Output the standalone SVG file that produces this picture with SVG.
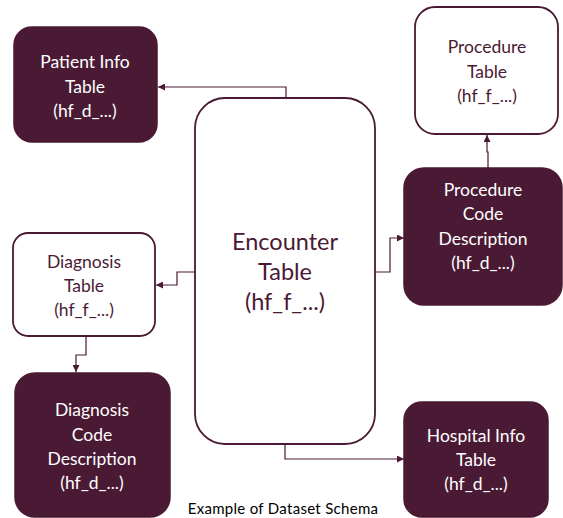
<svg xmlns="http://www.w3.org/2000/svg" width="563" height="518" viewBox="0 0 563 518">
<defs>
<style>
.dark{fill:#4a1a34;stroke:#4a1a34;stroke-width:1.5}
.light{fill:#ffffff;stroke:#4a1a34;stroke-width:1.8}
.t{font-family:Lato,"Open Sans",sans-serif;font-size:17.5px;text-anchor:middle}
.tw{fill:#ffffff}
.tm{fill:#4a1a34}
.big{font-size:23.5px}
.conn{fill:none;stroke:#4a1a34;stroke-width:1.2}
.cap{font-family:Lato,"Open Sans",sans-serif;font-size:15px;letter-spacing:0.3px;fill:#000;text-anchor:middle}
</style>
<marker id="ah" viewBox="0 0 10 10" refX="10" refY="5" markerWidth="7" markerHeight="7" orient="auto" markerUnits="userSpaceOnUse">
<path d="M0,0 L10,5 L0,10 z" fill="#4a1a34"/>
</marker>
</defs>
<rect width="563" height="518" fill="#ffffff"/>
<g id="connectors">
<polyline class="conn" points="286,98 286,87 158,87" marker-end="url(#ah)"/>
<polyline class="conn" points="195,272 177,272 177,285 156,285" marker-end="url(#ah)"/>
<polyline class="conn" points="86,336 86,355 76,355 76,372" marker-end="url(#ah)"/>
<polyline class="conn" points="375,272 390,272 390,238 404,238" marker-end="url(#ah)"/>
<polyline class="conn" points="488,168 488,152 487,152 487,135" marker-end="url(#ah)"/>
<polyline class="conn" points="285,444 285,459 404,459" marker-end="url(#ah)"/>
</g>
<g id="patient-info">
<rect class="dark" x="14" y="27" width="143" height="115" rx="18"/>
<text class="t tw" x="85" y="68">Patient Info</text>
<text class="t tw" x="85" y="93">Table</text>
<text class="t tw" x="85" y="117">(hf_d_...)</text>
</g>
<g id="encounter">
<rect class="light" x="195" y="98" width="180" height="346" rx="30"/>
<text class="t tm big" x="285" y="250">Encounter</text>
<text class="t tm big" x="285" y="280">Table</text>
<text class="t tm big" x="285" y="310">(hf_f_...)</text>
</g>
<g id="procedure-table">
<rect class="light" x="415" y="7" width="143" height="127" rx="20"/>
<text class="t tm" x="487" y="53">Procedure</text>
<text class="t tm" x="487" y="78">Table</text>
<text class="t tm" x="487" y="102">(hf_f_...)</text>
</g>
<g id="procedure-code">
<rect class="dark" x="404" y="168" width="158" height="137" rx="20"/>
<text class="t tw" x="483" y="196">Procedure</text>
<text class="t tw" x="483" y="220">Code</text>
<text class="t tw" x="483" y="245">Description</text>
<text class="t tw" x="483" y="269">(hf_d_...)</text>
</g>
<g id="diagnosis-table">
<rect class="light" x="13" y="233" width="142" height="103" rx="15"/>
<text class="t tm" x="84" y="268">Diagnosis</text>
<text class="t tm" x="84" y="292">Table</text>
<text class="t tm" x="84" y="316">(hf_f_...)</text>
</g>
<g id="diagnosis-code">
<rect class="dark" x="15" y="373" width="155" height="144" rx="20"/>
<text class="t tw" x="92" y="416">Diagnosis</text>
<text class="t tw" x="92" y="441">Code</text>
<text class="t tw" x="92" y="465">Description</text>
<text class="t tw" x="92" y="489">(hf_d_...)</text>
</g>
<g id="hospital-info">
<rect class="dark" x="404" y="402" width="144" height="115" rx="18"/>
<text class="t tw" x="476" y="442">Hospital Info</text>
<text class="t tw" x="476" y="466">Table</text>
<text class="t tw" x="476" y="490">(hf_d_...)</text>
</g>
<text class="cap" x="283" y="514">Example of Dataset Schema</text>
</svg>
